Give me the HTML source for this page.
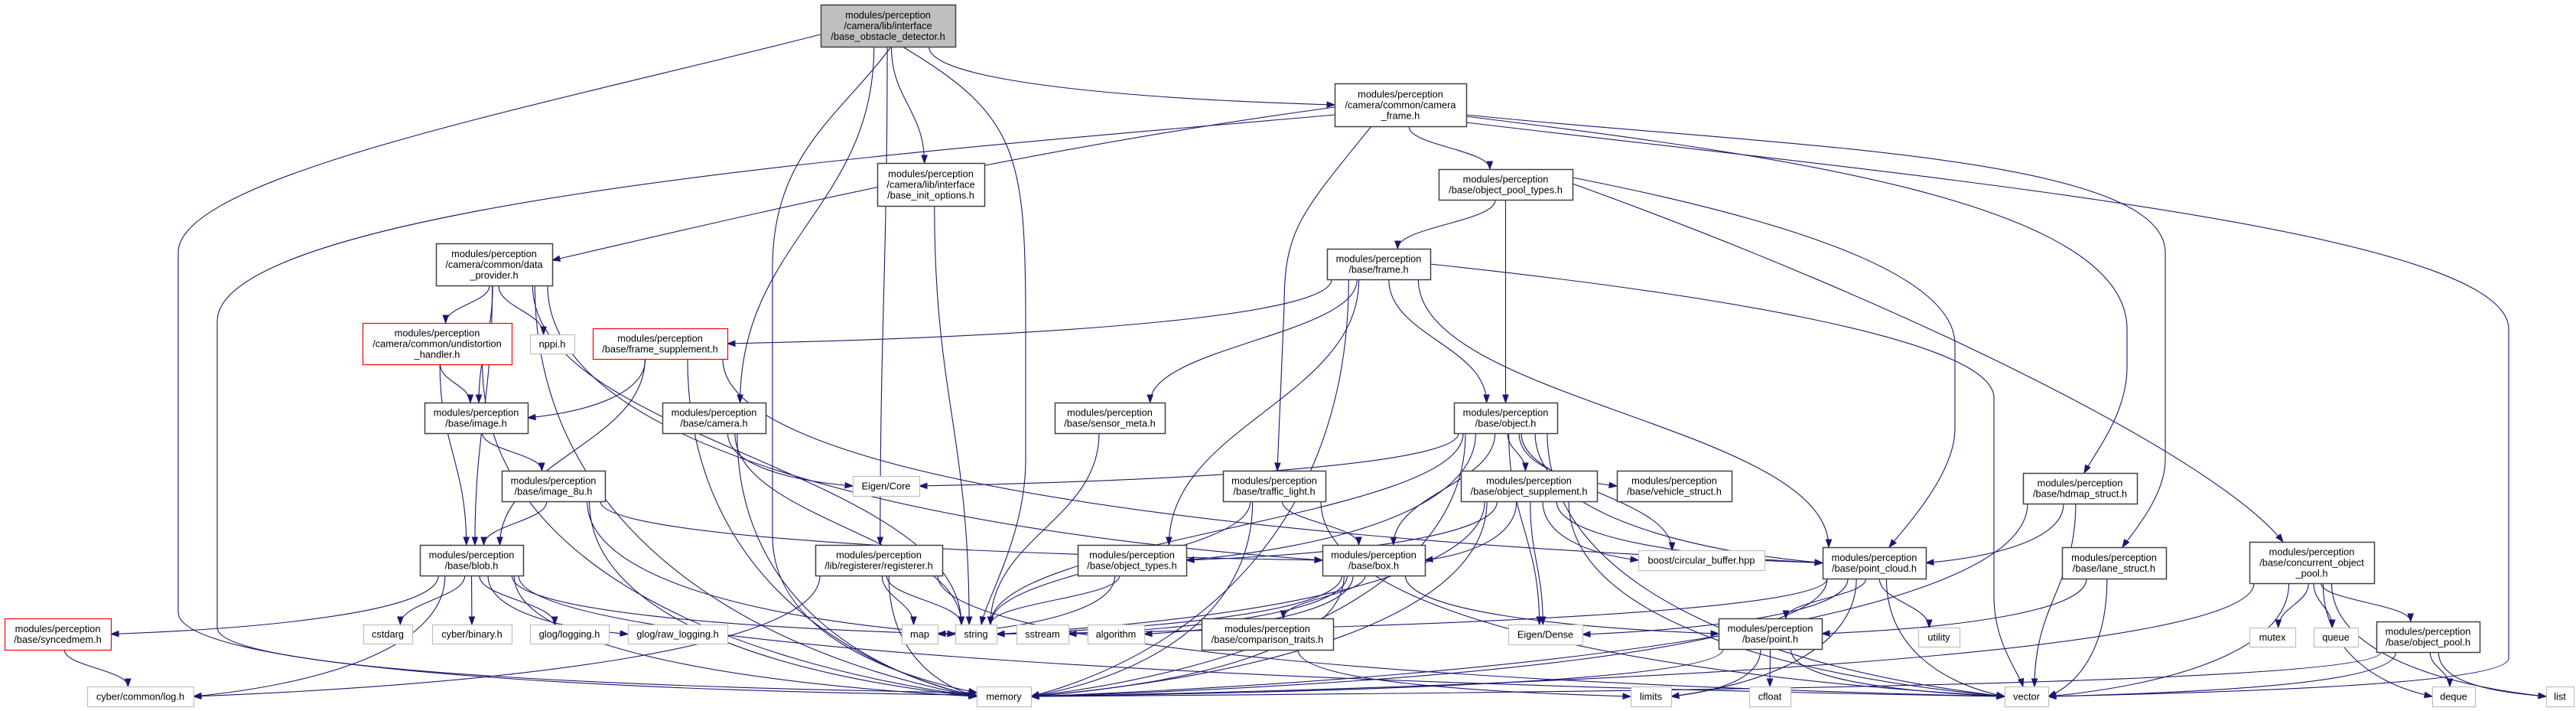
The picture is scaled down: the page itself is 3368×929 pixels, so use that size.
<!DOCTYPE html>
<html><head><meta charset="utf-8"><style>
html,body{margin:0;padding:0;background:#fff;}
svg{display:block;}
text{font-family:"Liberation Sans",sans-serif;font-size:12.8px;fill:#000;}
</style></head><body>
<svg id="g" width="3368" height="929" viewBox="0 0 3368 929" xmlns="http://www.w3.org/2000/svg">
<g id="edges" fill="none" stroke="#191970" stroke-width="1.1"></g>
<g id="heads" fill="#191970" stroke="#191970"></g>
<g id="nodes"></g>
</svg>
<script>
var N={
root:[1073,6,176,55,'r',["modules/perception","/camera/lib/interface","/base_obstacle_detector.h"]],
cf:[1745,109,172,56,'b',["modules/perception","/camera/common/camera","_frame.h"]],
bio:[1147,213,140,56,'b',["modules/perception","/camera/lib/interface","/base_init_options.h"]],
opt:[1881,221,175,40,'b',["modules/perception","/base/object_pool_types.h"]],
dp:[570,318,152,55,'b',["modules/perception","/camera/common/data","_provider.h"]],
fr:[1735,325,135,40,'b',["modules/perception","/base/frame.h"]],
uh:[474,422,195,54,'red',["modules/perception","/camera/common/undistortion","_handler.h"]],
nppi:[693,437,58,25,'g',["nppi.h"]],
fs:[775,429,176,40,'red',["modules/perception","/base/frame_supplement.h"]],
img:[555,526,135,40,'b',["modules/perception","/base/image.h"]],
cam:[866,526,135,40,'b',["modules/perception","/base/camera.h"]],
sm:[1379,526,144,40,'b',["modules/perception","/base/sensor_meta.h"]],
obj:[1901,526,135,40,'b',["modules/perception","/base/object.h"]],
i8:[656,615,135,40,'b',["modules/perception","/base/image_8u.h"]],
ec:[1115,622,87,26,'g',["Eigen/Core"]],
tl:[1599,615,134,40,'b',["modules/perception","/base/traffic_light.h"]],
os:[1910,615,178,40,'b',["modules/perception","/base/object_supplement.h"]],
vs:[2114,615,150,40,'b',["modules/perception","/base/vehicle_struct.h"]],
hd:[2645,618,149,40,'b',["modules/perception","/base/hdmap_struct.h"]],
blob:[549,712,135,40,'b',["modules/perception","/base/blob.h"]],
reg:[1066,712,166,40,'b',["modules/perception","/lib/registerer/registerer.h"]],
ot:[1409,712,142,40,'b',["modules/perception","/base/object_types.h"]],
box:[1729,712,134,40,'b',["modules/perception","/base/box.h"]],
cb:[2142,719,165,26,'g',["boost/circular_buffer.hpp"]],
pc:[2383,715,135,41,'b',["modules/perception","/base/point_cloud.h"]],
ls:[2696,715,136,41,'b',["modules/perception","/base/lane_struct.h"]],
cop:[2941,708,163,54,'b',["modules/perception","/base/concurrent_object","_pool.h"]],
syn:[6,808,139,41,'red',["modules/perception","/base/syncedmem.h"]],
cst:[475,816,64,25,'g',["cstdarg"]],
bin:[565,816,104,25,'g',["cyber/binary.h"]],
glog:[693,816,103,25,'g',["glog/logging.h"]],
graw:[821,816,130,25,'g',["glog/raw_logging.h"]],
map:[1179,816,47,25,'g',["map"]],
str:[1249,816,54,25,'g',["string"]],
sst:[1329,816,68,25,'g',["sstream"]],
alg:[1422,816,74,25,'g',["algorithm"]],
ct:[1571,808,172,41,'b',["modules/perception","/base/comparison_traits.h"]],
ed:[1972,816,97,26,'g',["Eigen/Dense"]],
pt:[2247,808,135,40,'b',["modules/perception","/base/point.h"]],
ut:[2508,820,54,25,'g',["utility"]],
mtx:[2941,820,60,25,'g',["mutex"]],
que:[3025,820,58,25,'g',["queue"]],
op:[3107,812,135,40,'b',["modules/perception","/base/object_pool.h"]],
log:[114,897,139,26,'g',["cyber/common/log.h"]],
mem:[1277,897,71,26,'g',["memory"]],
lim:[2132,897,53,26,'g',["limits"]],
cfl:[2287,897,54,26,'g',["cfloat"]],
vec:[2621,897,57,26,'g',["vector"]],
deq:[3180,897,56,26,'g',["deque"]],
lst:[3329,897,36,26,'g',["list"]]
};
var C={
'root>mem':'M1073,45 C700,140 233,230 233,330 L233,800 C233,880 900,905 1277,908',
'cf>mem':'M1745,150 C1300,190 284,260 284,420 L284,820 C284,880 900,900 1277,905',
'cf>vec':'M1917,160 C2500,230 3280,300 3280,430 L3280,860 C3280,895 2900,905 2678,910',
'cf>hd':'M1917,152 C2300,200 2781,260 2781,430 L2781,480 C2781,540 2740,590 2725,618',
'cf>ls':'M1917,150 C2300,190 2831,200 2831,330 L2831,600 C2831,650 2785,700 2775,715',
'opt>pc':'M2056,232 C2300,280 2556,350 2556,450 L2556,560 C2556,620 2490,690 2470,715',
'fr>vec':'M1870,345 C2200,380 2607,440 2607,520 L2607,780 C2607,840 2640,880 2645,897',
'opt>cop':'M2056,240 C2500,400 2900,600 2985,708',
'root>str':'M1180,61 C1330,150 1341,200 1341,420 L1341,600 C1341,700 1290,780 1283,816',
'root>mem2':'M1165,61 C1100,150 1010,200 1010,350 L1010,700 C1010,820 1150,880 1277,905',
'cf>dp':'M1745,140 C1300,200 900,300 722,340',
'cf>tl':'M1793,165 C1700,280 1679,300 1679,400 L1670,615'
};
var E="root>cf root>bio root>cam root>reg root>str root>mem root>mem2 "+
"cf>dp cf>mem cf>opt cf>tl cf>hd cf>ls cf>vec "+
"opt>fr opt>obj opt>pc opt>cop "+
"fr>fs fr>obj fr>ot fr>sm fr>pc fr>vec fr>mem "+
"dp>uh dp>nppi dp>img dp>blob dp>mem dp>str dp>box "+
"uh>img uh>blob uh>mem fs>img fs>blob fs>mem fs>pc "+
"img>i8 cam>ec cam>str cam>mem i8>blob i8>box i8>str i8>mem "+
"blob>syn blob>log blob>cst blob>bin blob>glog blob>graw blob>mem blob>vec blob>str syn>log "+
"reg>map reg>str reg>vec reg>log reg>mem sm>str bio>str "+
"obj>ec obj>ot obj>os obj>vs obj>cb obj>pc obj>vec obj>str obj>mem obj>ed obj>box "+
"tl>box tl>str tl>mem tl>vec os>ot os>box os>pc os>cb os>str os>vec os>mem os>ed "+
"ot>map ot>str box>ct box>str box>sst box>alg box>mem box>pt ct>lim "+
"hd>pc hd>mem hd>vec ls>pt ls>vec pc>pt pc>ut pc>vec pc>mem pc>lim pc>ed pc>str "+
"pt>cfl pt>lim pt>mem pt>vec cop>op cop>mtx cop>que cop>deq cop>lst cop>vec cop>mem "+
"op>deq op>lst op>vec op>mem";
var ns="http://www.w3.org/2000/svg";
function el(t,a,p){var e=document.createElementNS(ns,t);for(var k in a)e.setAttribute(k,a[k]);p.appendChild(e);return e;}
var ge=document.getElementById('edges'),gh=document.getElementById('heads'),gn=document.getElementById('nodes');
function head(tx,ty,c2x,c2y){
 var vx=tx-c2x,vy=ty-c2y,L=Math.sqrt(vx*vx+vy*vy)||1;vx/=L;vy/=L;
 var bx=tx-vx*10,by=ty-vy*10,px=-vy*3.6,py=vx*3.6;
 el('polygon',{points:tx+','+ty+' '+(bx+px)+','+(by+py)+' '+(bx-px)+','+(by-py)},gh);
}
E.split(' ').forEach(function(s){
 if(C[s]){
  var d=C[s];el('path',{d:d},ge);
  var nums=d.match(/-?\d+(\.\d+)?/g).map(Number),n=nums.length;
  head(nums[n-2],nums[n-1],nums[n-4],nums[n-3]);return;
 }
 var p=s.split('>'),a=N[p[0]],b=N[p[1]];if(!a||!b)return;
 var acx=a[0]+a[2]/2,bcx=b[0]+b[2]/2;
 var sx=acx+(bcx-acx)*0.08;sx=Math.max(a[0]+6,Math.min(a[0]+a[2]-6,sx));
 var sy=a[1]+a[3];
 var tx,ty,c1x,c1y,c2x,c2y;
 var dx=bcx-acx,dy=b[1]-sy;
 var bottom=b[1]>=890;
 if(dy>0 && ((bottom && Math.abs(dx)>b[2]/2+60) || Math.abs(dx)>3.2*dy)){
  tx=dx>0?b[0]:b[0]+b[2];
  ty=b[1]+b[3]/2;
  c1x=sx;c1y=sy+Math.max(40,(ty-sy)*0.6);
  c2x=tx-(dx>0?1:-1)*Math.abs(tx-sx)*0.5;c2y=ty-(ty-sy)*0.1;
 }else{
  tx=bcx+Math.max(-b[2]/2+8,Math.min(b[2]/2-8,(acx-bcx)*0.15));ty=b[1];
  var h=Math.max(20,(ty-sy)*0.45);
  c1x=sx;c1y=sy+h;c2x=tx;c2y=ty-h;
 }
 el('path',{d:'M'+sx+','+sy+' C'+c1x+','+c1y+' '+c2x+','+c2y+' '+tx+','+ty},ge);
 head(tx,ty,c2x,c2y);
});
for(var k in N){var n=N[k];
 var st={b:'#404040',g:'#bfbfbf',red:'#ff0000',r:'#404040'}[n[4]];
 el('rect',{x:n[0]+0.5,y:n[1]+0.5,width:n[2],height:n[3],fill:n[4]=='r'?'#bfbfbf':'#fff',stroke:st,'stroke-width':(n[4]=='b'||n[4]=='r')?1.5:1.2},gn);
 var L=n[5],y0=n[1]+n[3]/2-(L.length-1)*7+4.5;
 for(var i=0;i<L.length;i++){var t=el('text',{x:n[0]+n[2]/2,y:y0+i*14,'text-anchor':'middle'},gn);t.textContent=L[i];}
}
</script>
</body></html>
